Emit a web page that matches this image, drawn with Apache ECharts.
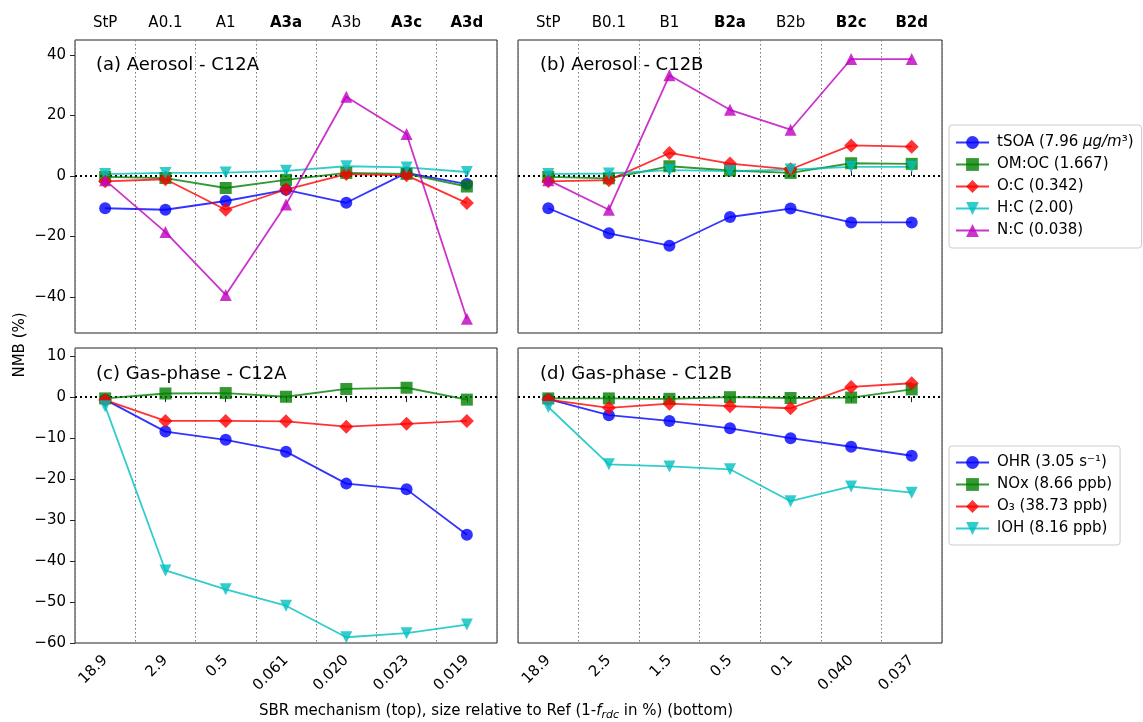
<!DOCTYPE html>
<html>
<head>
<meta charset="utf-8">
<script src="https://cdn.jsdelivr.net/npm/echarts@6/dist/echarts.min.js"></script>
<style>
  html, body { margin: 0; padding: 0; background: #fff; }
  #chart { width: 1143px; height: 722px; }
</style>
</head>
<body>
<div id="chart"></div>
<script>
// Mechanism names (top axis) and relative sizes (bottom axis)
const mechA = ['StP', 'A0.1', 'A1', 'A3a', 'A3b', 'A3c', 'A3d'];
const mechB = ['StP', 'B0.1', 'B1', 'B2a', 'B2b', 'B2c', 'B2d'];
const boldMech = ['A3a', 'A3c', 'A3d', 'B2a', 'B2c', 'B2d'];
const sizeA = ['18.9', '2.9', '0.5', '0.061', '0.020', '0.023', '0.019'];
const sizeB = ['18.9', '2.5', '1.5', '0.5', '0.1', '0.040', '0.037'];

// Aerosol NMB (%) – C12A
const tsoaA = [-10.7, -11.2, -8.3, -4.6, -8.9, 1.0, -2.7];
const omocA = [-0.3, -0.7, -4.0, -1.3, 1.0, 0.7, -3.5];
const ocA   = [-1.8, -1.1, -11.2, -4.5, 0.6, 0.2, -9.0];
const hcA   = [0.6, 1.0, 1.1, 1.7, 3.2, 2.8, 1.3];
const ncA   = [-1.4, -18.6, -39.4, -9.5, 26.2, 13.9, -47.3];

// Aerosol NMB (%) – C12B
const tsoaB = [-10.7, -19.0, -23.1, -13.6, -10.8, -15.4, -15.4];
const omocB = [-0.3, -0.8, 3.2, 1.8, 1.0, 4.2, 4.0];
const ocB   = [-1.8, -1.4, 7.6, 4.1, 2.2, 10.1, 9.7];
const hcB   = [0.6, 0.8, 1.9, 1.6, 2.1, 3.0, 3.0];
const ncB   = [-1.4, -11.2, 33.3, 21.9, 15.3, 38.7, 38.7];

// Gas-phase NMB (%) – C12A
const ohrA = [-0.6, -8.4, -10.4, -13.3, -21.1, -22.5, -33.6];
const noxA = [-0.3, 0.9, 1.0, 0.1, 2.0, 2.3, -0.6];
const o3A  = [-0.7, -5.8, -5.8, -5.9, -7.2, -6.5, -5.8];
const lohA = [-2.2, -42.3, -46.9, -50.9, -58.6, -57.6, -55.5];

// Gas-phase NMB (%) – C12B
const ohrB = [-0.5, -4.4, -5.8, -7.6, -10.0, -12.1, -14.3];
const noxB = [-0.3, -0.3, -0.4, 0.0, -0.2, -0.1, 1.9];
const o3B  = [-0.6, -2.6, -1.6, -2.2, -2.7, 2.5, 3.4];
const lohB = [-2.4, -16.4, -16.9, -17.6, -25.4, -21.8, -23.3];

// Series names (legend entries)
const aeroNames = ['tSOA (7.96 μg/m³)', 'OM:OC (1.667)', 'O:C (0.342)', 'H:C (2.00)', 'N:C (0.038)'];
const gasNames = ['OHR (3.05 s⁻¹)', 'NOx (8.66 ppb)', 'O₃ (38.73 ppb)', 'lOH (8.16 ppb)'];

// Tick values
const aeroTicks = [-40, -20, 0, 20, 40];
const gasTicks = [-60, -50, -40, -30, -20, -10, 0, 10];

const FONT = 'DejaVu Sans';

const styles = {
  blue:    { color: '#0000ff', symbol: 'circle',   size: 12, rotate: 0 },
  green:   { color: '#008000', symbol: 'rect',     size: 12, rotate: 0 },
  red:     { color: '#ff0000', symbol: 'diamond',  size: 14, rotate: 0 },
  cyan:    { color: '#00bfbf', symbol: 'triangle', size: 12, rotate: 180 },
  magenta: { color: '#bf00bf', symbol: 'triangle', size: 12, rotate: 0 }
};

function line(name, data, st, gi, withZero) {
  const s = {
    type: 'line', name: name, data: data,
    xAxisIndex: gi, yAxisIndex: gi,
    symbol: st.symbol, symbolSize: st.size, symbolRotate: st.rotate,
    showAllSymbol: true,
    lineStyle: { color: st.color, width: 1.8, opacity: 0.8 },
    itemStyle: { color: st.color, opacity: 0.8 },
    emphasis: { disabled: true },
    z: 3
  };
  if (withZero) {
    s.markLine = {
      silent: true, symbol: ['none', 'none'],
      label: { show: false },
      lineStyle: { color: '#000', type: [2, 3], width: 2, opacity: 1 },
      data: [{ yAxis: 0 }],
      z: 2
    };
  }
  return s;
}

const grids = [
  { left: 75,  top: 40,  width: 422, height: 293 },
  { left: 518, top: 40,  width: 424, height: 293 },
  { left: 75,  top: 348, width: 422, height: 295 },
  { left: 518, top: 348, width: 424, height: 295 }
].map(g => Object.assign({ show: true, borderColor: '#222', borderWidth: 1, backgroundColor: 'transparent' }, g));

const splitDotted = { show: true, lineStyle: { color: '#777', type: [1.5, 2.5], width: 1 } };

function topAxis(gi, labels) {
  return {
    type: 'category', gridIndex: gi, data: labels, position: 'top', boundaryGap: true,
    axisLine: { show: false },
    axisTick: { show: true, alignWithLabel: true, length: 5, lineStyle: { color: '#222' } },
    axisLabel: {
      show: true, interval: 0, margin: 9, color: '#000', fontFamily: FONT, fontSize: 15,
      formatter: v => boldMech.includes(v) ? '{b|' + v + '}' : v,
      rich: { b: { fontWeight: 'bold', fontFamily: FONT, fontSize: 15, color: '#000' } }
    },
    splitLine: splitDotted
  };
}

function bottomAxis(gi, labels) {
  return {
    type: 'category', gridIndex: gi, data: labels, position: 'bottom', boundaryGap: true,
    axisLine: { show: false },
    axisTick: { show: true, alignWithLabel: true, length: 5, lineStyle: { color: '#222' } },
    axisLabel: { show: true, interval: 0, rotate: 45, margin: 15, color: '#000', fontFamily: FONT, fontSize: 15 },
    splitLine: splitDotted
  };
}

function yAxis(gi, min, max, ticks, showLabels) {
  return {
    type: 'value', gridIndex: gi, min: min, max: max,
    axisLine: { show: false },
    axisTick: { show: showLabels, length: 5, customValues: ticks, lineStyle: { color: '#222' } },
    axisLabel: {
      show: showLabels, customValues: ticks, margin: 9, color: '#000', fontFamily: FONT, fontSize: 15,
      formatter: v => String(v).replace('-', '\u2212')
    },
    splitLine: { show: false }
  };
}

const aeroStyles = [styles.blue, styles.green, styles.red, styles.cyan, styles.magenta];
const gasStyles = [styles.blue, styles.green, styles.red, styles.cyan];

const series = [];
[tsoaA, omocA, ocA, hcA, ncA].forEach((d, i) => series.push(line(aeroNames[i], d, aeroStyles[i], 0, i === 0)));
[tsoaB, omocB, ocB, hcB, ncB].forEach((d, i) => series.push(line(aeroNames[i], d, aeroStyles[i], 1, i === 0)));
[ohrA, noxA, o3A, lohA].forEach((d, i) => series.push(line(gasNames[i], d, gasStyles[i], 2, i === 0)));
[ohrB, noxB, o3B, lohB].forEach((d, i) => series.push(line(gasNames[i], d, gasStyles[i], 3, i === 0)));

const legendBase = {
  orient: 'vertical', itemWidth: 33, itemHeight: 16, itemGap: 7,
  borderColor: '#ccc', borderWidth: 1, borderRadius: 3, backgroundColor: '#fff',
  padding: [9, 8, 9, 6],
  textStyle: {
    fontFamily: FONT, fontSize: 15, color: '#000', padding: [0, 0, 0, 3],
    rich: { i: { fontStyle: 'italic', fontFamily: FONT, fontSize: 15, color: '#000' } }
  },
  selectedMode: false
};

const panelTitle = (text, left, top) => ({
  text: text, left: left, top: top,
  textStyle: { fontFamily: FONT, fontSize: 18, fontWeight: 'normal', color: '#000' }
});

const chart = echarts.init(document.getElementById('chart'), null, { renderer: 'canvas' });
chart.setOption({
  animation: false,
  backgroundColor: '#fff',
  textStyle: { fontFamily: FONT },
  title: [
    panelTitle('(a) Aerosol - C12A', 91, 51),
    panelTitle('(b) Aerosol - C12B', 535, 51),
    panelTitle('(c) Gas-phase - C12A', 91, 360),
    panelTitle('(d) Gas-phase - C12B', 535, 360)
  ],
  grid: grids,
  xAxis: [topAxis(0, mechA), topAxis(1, mechB), bottomAxis(2, sizeA), bottomAxis(3, sizeB)],
  yAxis: [
    yAxis(0, -52, 45, aeroTicks, true),
    yAxis(1, -52, 45, aeroTicks, false),
    yAxis(2, -60, 12, gasTicks, true),
    yAxis(3, -60, 12, gasTicks, false)
  ],
  legend: [
    Object.assign({}, legendBase, {
      left: 949, top: 125, padding: [10, 8, 10, 6], data: aeroNames,
      formatter: n => n === aeroNames[0] ? 'tSOA (7.96 {i|μg/m}³)' : n
    }),
    Object.assign({}, legendBase, {
      left: 949, top: 446, padding: [9, 8, 9, 6], data: gasNames
    })
  ],
  graphic: [
    {
      type: 'text', x: 20, y: 345, rotation: Math.PI / 2,
      style: { text: 'NMB (%)', fontFamily: FONT, fontSize: 15, fill: '#000', align: 'center', verticalAlign: 'middle' }
    },
    {
      type: 'text', x: 496, y: 711,
      style: {
        text: '{n|SBR mechanism (top), size relative to Ref (1-}{i|f}{s|rdc}{n| in %) (bottom)}',
        align: 'center', verticalAlign: 'middle',
        rich: {
          n: { fontFamily: FONT, fontSize: 15, fill: '#000', color: '#000' },
          i: { fontFamily: FONT, fontSize: 15, fontStyle: 'italic', color: '#000' },
          s: { fontFamily: FONT, fontSize: 11, fontStyle: 'italic', color: '#000', padding: [8, 0, 0, 0] }
        }
      }
    }
  ],
  series: series
});
</script>
</body>
</html>
